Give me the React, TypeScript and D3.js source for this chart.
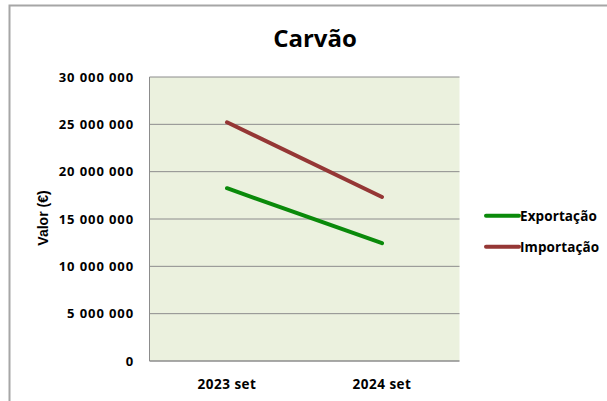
import React from "react";
import * as d3 from "d3";

const categories = ["2023 set", "2024 set"];
const exportacao = [18250000, 12440000];
const importacao = [25220000, 17330000];
const yTicks = [0, 5000000, 10000000, 15000000, 20000000, 25000000, 30000000];
const seriesNames = ["Exportação", "Importação"];
const seriesColors = ["#0a8a0a", "#953735"];

const W = 607, H = 401;
const plot = { left: 149.5, right: 459.5, top: 77, bottom: 361 };

const fmt = (v: number) => d3.format(",")(v).replace(/,/g, " ");

export default function App() {
  const x = d3.scaleBand().domain(categories).range([plot.left, plot.right]);
  const y = d3.scaleLinear().domain([0, 30000000]).range([plot.bottom, plot.top]);
  const line = d3
    .line<number>()
    .x((_, i) => (x(categories[i]) as number) + x.bandwidth() / 2)
    .y((d) => y(d));
  const series = [exportacao, importacao];
  const font = "'Open Sans', sans-serif";
  return (
    <svg width={W} height={H} style={{ position: "absolute", left: 0, top: 0 }}>
      <rect x={0} y={0} width={W} height={H} fill="#fff" />
      <rect x={9.5} y={5.5} width={W + 10} height={H + 10} fill="none" stroke="#a6a6a6" strokeWidth={2} />
      <text x={315} y={47} textAnchor="middle" fontFamily={font} fontWeight="bold" fontSize={24} fill="#000">
        Carvão
      </text>
      <rect x={plot.left} y={plot.top} width={plot.right - plot.left} height={plot.bottom - plot.top} fill="#ebf1de" />
      {yTicks.slice(1).map((t) => (
        <line key={t} x1={plot.left} x2={plot.right} y1={y(t)} y2={y(t)} stroke="#8c8c8c" strokeWidth={1} />
      ))}
      <line x1={plot.left} x2={plot.left} y1={plot.top} y2={plot.bottom} stroke="#8c8c8c" strokeWidth={1} />
      <line x1={plot.left} x2={plot.right} y1={plot.bottom} y2={plot.bottom} stroke="#8c8c8c" strokeWidth={1.5} />
      {yTicks.map((t) => (
        <text key={t} x={134} y={y(t) + 4.5} textAnchor="end" fontFamily={font} fontWeight="bold" fontSize={13} letterSpacing={0.9} fill="#000">
          {fmt(t)}
        </text>
      ))}
      {categories.map((c) => (
        <text key={c} x={(x(c) as number) + x.bandwidth() / 2} y={389} textAnchor="middle" fontFamily={font} fontWeight="bold" fontSize={13.5} letterSpacing={0.5} fill="#000">
          {c}
        </text>
      ))}
      <text transform="translate(48,218) rotate(-90)" textAnchor="middle" fontFamily="'Liberation Sans', Arial, sans-serif" fontWeight="bold" fontSize={14} fill="#000">
        Valor (€)
      </text>
      {series.map((s, i) => (
        <path key={i} d={line(s) || ""} fill="none" stroke={seriesColors[i]} strokeWidth={4} strokeLinecap="round" />
      ))}
      {seriesNames.map((n, i) => (
        <g key={n} transform={`translate(0,${215.7 + i * 31})`}>
          <line x1={486} x2={519} y1={0} y2={0} stroke={seriesColors[i]} strokeWidth={4} strokeLinecap="round" />
          <text x={520} y={5} fontFamily={font} fontWeight="bold" fontSize={13.5} letterSpacing={0.1} fill="#000">
            {n}
          </text>
        </g>
      ))}
    </svg>
  );
}
